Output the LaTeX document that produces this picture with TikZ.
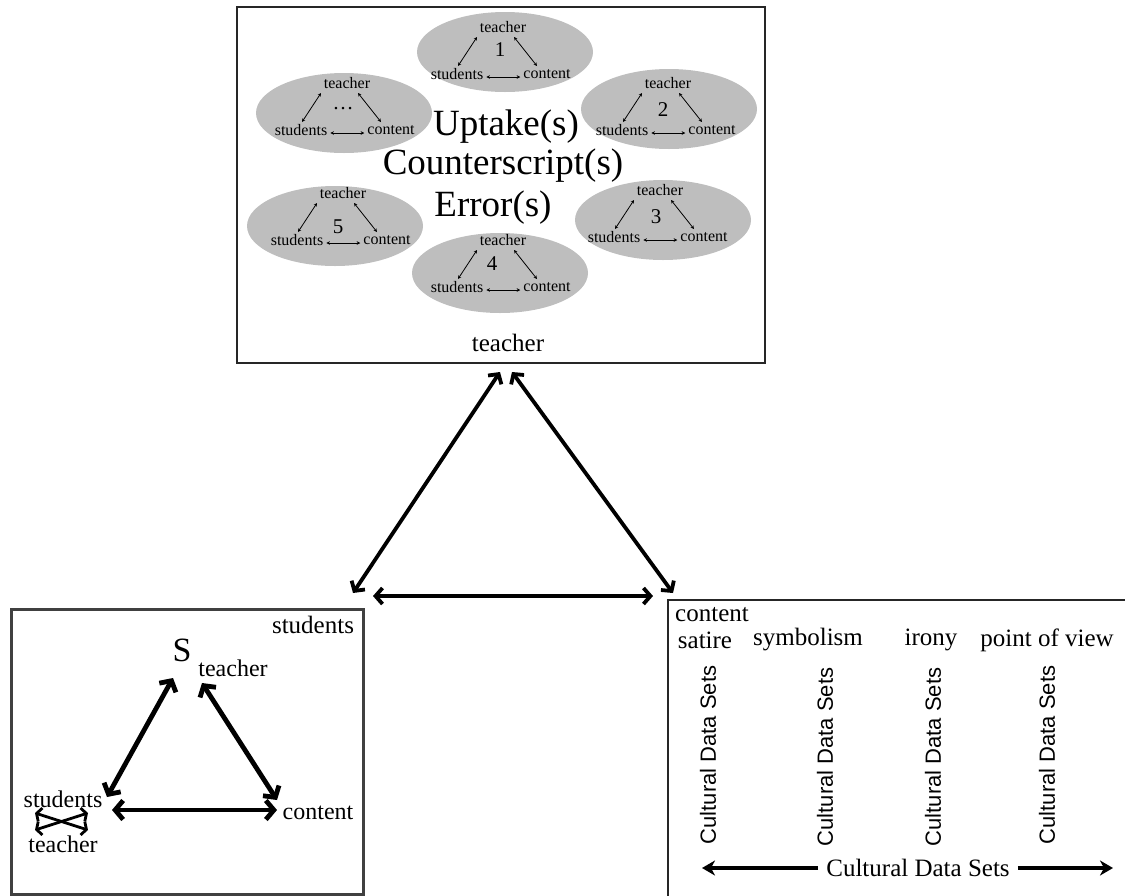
\documentclass[tikz,border=0pt]{standalone}
\usepackage{fontspec}
\setmainfont{Liberation Serif}
\setsansfont{Liberation Sans}
\usetikzlibrary{arrows.meta,calc,shapes.geometric}

\definecolor{ellgray}{RGB}{190,190,190}

\tikzset{
  frame/.style={draw=black!85, line width=2pt},
  ell/.style={ellipse, fill=ellgray, draw=none, inner sep=0pt,
              minimum width=176pt, minimum height=80pt},
  lbl/.style={inner sep=0pt, font=\fontsize{16}{16}\selectfont},
  numlbl/.style={inner sep=0pt, font=\fontsize{21}{21}\selectfont},
  big/.style={inner sep=0pt, anchor=base, font=\fontsize{37}{37}\selectfont},
  mid/.style={inner sep=0pt, font=\fontsize{25}{25}\selectfont},
  sub/.style={inner sep=0pt, font=\fontsize{24}{24}\selectfont},
  vert/.style={inner sep=0pt, rotate=90, font=\sffamily\fontsize{22}{22}\selectfont},
  thinlink/.style={line width=0.8pt, {Stealth[length=3.5pt,width=3.5pt]}-{Stealth[length=3.5pt,width=3.5pt]}},
  bigarrow/.style={line width=3.8pt, {Straight Barb[length=7pt,width=16pt]}-{Straight Barb[length=7pt,width=16pt]}},
  fatarrow/.style={line width=4.8pt, {Straight Barb[length=8pt,width=19pt]}-{Straight Barb[length=8pt,width=19pt]}},
  xarrow/.style={line width=2.8pt, {Straight Barb[length=4pt,width=14pt]}-{Straight Barb[length=4pt,width=14pt]}},
  cdsarrow/.style={line width=3.8pt, -{Stealth[length=13pt,width=15pt,inset=4pt]}},
}

% a grey ellipse holding a small teacher/students/content triad
% #1 name, #2 ellipse centre, #3 teacher label, #4 number text, #5 number position
\newcommand\minitriad[5]{%
  \node[ell] (#1) at (#2) {};
  \node[lbl] (#1-t) at (#3) {teacher};
  \node[lbl] (#1-s) at ($(#3)+(-46,47)$) {students};
  \node[lbl] (#1-c) at ($(#3)+(44,47)$) {content};
  \node[numlbl] (#1-n) at (#5) {#4};
  \draw[thinlink] ($(#1-t)+(-26,10)$) -- ($(#1-s)+(1,-8)$);
  \draw[thinlink] ($(#1-t)+(11,10)$) -- ($(#1-c)+(-10,-8)$);
  \draw[thinlink] ($(#1-s.east)+(3,3)$) -- ($(#1-c.west)+(-3,3)$);
}

\begin{document}
\begin{tikzpicture}[x=1pt,y=-1pt]
  \useasboundingbox (0,0) rectangle (1125,895);

  % ---------- teacher panel ----------
  \node[frame, minimum width=528pt, minimum height=356pt, inner sep=0pt, anchor=north west]
    (tbox) at (236,6) {};

  \minitriad{e1}{505,52}{503,27}{1}{500,50}
  \minitriad{e6}{344,113}{347,83}{\dots}{343,109}
  \minitriad{e2}{669,109}{668,83}{2}{663,110}
  \minitriad{e3}{663,220}{660,190}{3}{656,217}
  \minitriad{e5}{335,226}{343,193}{5}{338,227}
  \minitriad{e4}{500,273}{503,240}{4}{492,264}

  \node[big] (up) at (506,135) {Uptake(s)};
  \node[big] (cs) at (503,174) {Counterscript(s)};
  \node[big] (er) at (493,216) {Error(s)};
  \node[mid] (tlabel) at (508,343) {teacher};

  % ---------- students panel ----------
  \node[frame, draw=black!75, line width=2.5pt, minimum width=352pt, minimum height=285pt,
        inner sep=0pt, anchor=north west] (sbox) at (10,608) {};
  \node[mid] (slabel) at (313,625) {students};
  \node[inner sep=0pt, font=\fontsize{34}{34}\selectfont] (bigS) at (182,650) {S};
  \node[sub] (subT) at (233,668) {teacher};
  \node[sub] (sst) at (63,799) {students};
  \node[sub] (sco) at (318,813) {content};
  \node[sub] (ste) at (63,844) {teacher};

  \coordinate (sA) at (173,678);
  \coordinate (sB) at (107,797);
  \coordinate (sC) at (202,683);
  \coordinate (sD) at (277,800);
  \coordinate (sE) at (112,810);
  \coordinate (sF) at (277,810);
  \draw[fatarrow] (sA) -- (sB);
  \draw[fatarrow] (sC) -- (sD);
  \draw[fatarrow] (sE) -- (sF);

  \coordinate (xa) at (35,813);
  \coordinate (xb) at (88,830);
  \coordinate (xc) at (35,830);
  \coordinate (xd) at (88,813);
  \draw[xarrow] (xa) -- (xb);
  \draw[xarrow] (xc) -- (xd);

  % ---------- content panel ----------
  \coordinate (cTL) at (668,600);
  \coordinate (cTR) at (1126,600);
  \coordinate (cBL) at (668,896);
  \draw[frame] (cTR) -- (cTL) -- (cBL);
  \node[mid, anchor=west] (clabel) at (675,615) {content};
  \node[mid] (sat) at (705,640) {satire};
  \node[mid] (sym) at (808,640) {symbolism};
  \node[mid] (iro) at (931,640) {irony};
  \node[mid] (pov) at (1047,640) {point of view};
  \node[vert] (v1) at (708,755) {Cultural Data Sets};
  \node[vert] (v2) at (825,757) {Cultural Data Sets};
  \node[vert] (v3) at (933,757) {Cultural Data Sets};
  \node[vert] (v4) at (1047,755) {Cultural Data Sets};
  \node[mid] (cds) at (918,868) {Cultural Data Sets};
  \coordinate (cdsL) at (702,868);
  \coordinate (cdsR) at (1113,868);
  \draw[cdsarrow] (cds.west) ++(-8,0) -- (cdsL);
  \draw[cdsarrow] (cds.east) ++(8,0) -- (cdsR);

  % ---------- links between the three panels ----------
  \coordinate (apL) at (500,372);
  \coordinate (apR) at (512,372);
  \coordinate (stu) at (353,593);
  \coordinate (con) at (673,593);
  \coordinate (hL) at (373,596);
  \coordinate (hR) at (653,596);
  \draw[bigarrow] (stu) -- (apL);
  \draw[bigarrow] (apR) -- (con);
  \draw[bigarrow] (hL) -- (hR);
\end{tikzpicture}
\end{document}
